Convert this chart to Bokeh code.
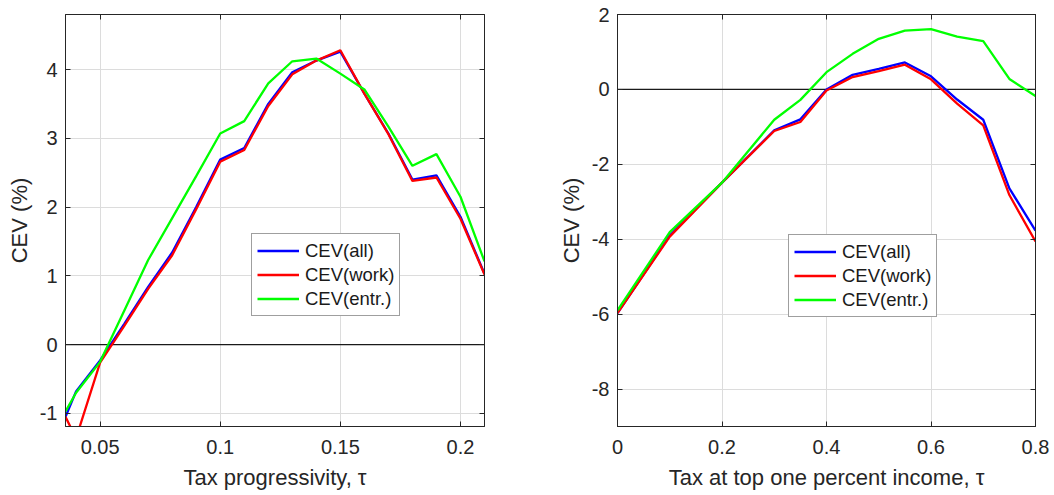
from bokeh.plotting import figure
from bokeh.layouts import row
from bokeh.models import (LinearAxis, FixedTicker, CustomJSTickFormatter, Span,
                          Legend, LegendItem, Label, Range1d)
from bokeh.embed import file_html
from bokeh.resources import INLINE

# ---------------- data ----------------
# Left panel: tax progressivity tau
tau = [0.0356, 0.04, 0.05, 0.06, 0.07, 0.08, 0.09, 0.10, 0.11, 0.12, 0.13,
       0.14, 0.15, 0.16, 0.17, 0.18, 0.19, 0.20, 0.21]
cev_all_L = [-1.05, -0.68, -0.23, 0.30, 0.84, 1.34, 2.00, 2.69, 2.86, 3.50, 3.96,
             4.13, 4.26, 3.65, 3.07, 2.40, 2.46, 1.86, 1.03]
cev_work_L = [-1.05, -1.36, -0.26, 0.27, 0.81, 1.30, 1.97, 2.66, 2.83, 3.47, 3.93,
              4.13, 4.28, 3.65, 3.06, 2.38, 2.43, 1.83, 1.02]
cev_entr_L = [-0.97, -0.70, -0.25, 0.49, 1.23, 1.84, 2.45, 3.07, 3.25, 3.80, 4.12,
              4.16, 3.94, 3.71, 3.17, 2.60, 2.77, 2.15, 1.21]

# Right panel: tax at top one percent income tau_H
tauH = [0.0, 0.1, 0.2, 0.3, 0.35, 0.4, 0.45, 0.5, 0.55, 0.6, 0.65, 0.7, 0.75, 0.8]
cev_all_R = [-5.97, -3.90, -2.49, -1.09, -0.80, 0.00, 0.39, 0.55, 0.72, 0.35,
             -0.27, -0.81, -2.64, -3.77]
cev_work_R = [-5.97, -3.93, -2.49, -1.11, -0.87, -0.03, 0.33, 0.49, 0.66, 0.27,
              -0.38, -0.96, -2.82, -4.06]
cev_entr_R = [-5.90, -3.81, -2.49, -0.81, -0.28, 0.46, 0.95, 1.35, 1.57, 1.61,
              1.41, 1.29, 0.28, -0.18]

series_labels = ["CEV(all)", "CEV(work)", "CEV(entr.)"]
series_colors = ["#0000ff", "#ff0000", "#00ff00"]

xticks_L = [0.05, 0.10, 0.15, 0.20]
yticks_L = [-1, 0, 1, 2, 3, 4]
xticks_R = [0.0, 0.2, 0.4, 0.6, 0.8]
yticks_R = [-8, -6, -4, -2, 0, 2]

FONT = "Liberation Sans"
TXT = "#262626"
H = 495


def fmt():
    return CustomJSTickFormatter(code="return String(Math.round(tick*1000)/1000)")


def make_panel(x, ys, xr, yr, xticks, yticks, xlabel, width, bl, br, legend_loc):
    p = figure(width=width, height=H, x_range=Range1d(*xr), y_range=Range1d(*yr),
               output_backend="svg", toolbar_location=None,
               min_border_left=bl, min_border_right=br,
               min_border_top=14, min_border_bottom=69)
    p.background_fill_color = "white"
    p.border_fill_color = "white"
    p.outline_line_color = TXT
    p.outline_line_width = 1

    xa = p.xaxis[0]
    ya = p.yaxis[0]
    xa.ticker = FixedTicker(ticks=xticks)
    ya.ticker = FixedTicker(ticks=yticks)
    for ax, std, lstd in ((xa, 13, 8), (ya, 8, 5)):
        ax.formatter = fmt()
        ax.major_tick_in = 5
        ax.major_tick_out = 0
        ax.minor_tick_in = 0
        ax.minor_tick_out = 0
        ax.axis_line_color = TXT
        ax.major_tick_line_color = TXT
        ax.major_label_text_color = TXT
        ax.major_label_text_font = FONT
        ax.major_label_text_font_size = "20px"
        ax.major_label_standoff = std
        ax.axis_label_text_font = FONT
        ax.axis_label_text_font_size = "22px"
        ax.axis_label_text_font_style = "normal"
        ax.axis_label_text_color = TXT
        ax.axis_label_standoff = lstd
    xa.axis_label = xlabel
    ya.axis_label = "CEV (%)"

    # mirrored ticks on top and right (no labels)
    for loc, tk in (("above", xticks), ("right", yticks)):
        ax = LinearAxis(ticker=FixedTicker(ticks=tk),
                        formatter=CustomJSTickFormatter(code="return ''"))
        ax.major_tick_in = 5
        ax.major_tick_out = 0
        ax.minor_tick_in = 0
        ax.minor_tick_out = 0
        ax.axis_line_color = TXT
        ax.major_tick_line_color = TXT
        ax.major_label_text_font_size = "1px"
        ax.major_label_standoff = 0
        p.add_layout(ax, loc)

    for g in (p.xgrid[0], p.ygrid[0]):
        g.grid_line_color = "#dcdcdc"
        g.grid_line_width = 1

    zero = Span(location=0, dimension="width", line_color="#1a1a1a",
                line_width=1.2, level="underlay")
    p.add_layout(zero)

    items = []
    for yv, lab, col in zip(ys, series_labels, series_colors):
        r = p.line(x, yv, line_color=col, line_width=2.3)
        items.append(LegendItem(label=lab, renderers=[r]))

    leg = Legend(items=items, location=legend_loc)
    leg.border_line_color = "#404040"
    leg.border_line_width = 1
    leg.background_fill_color = "white"
    leg.background_fill_alpha = 1
    leg.label_text_font = FONT
    leg.label_text_font_size = "18.5px"
    leg.label_text_color = "#1a1a1a"
    leg.glyph_width = 42
    leg.glyph_height = 23
    leg.label_height = 23
    leg.label_standoff = 6
    leg.padding = 5
    leg.spacing = 1
    leg.margin = 0
    p.add_layout(leg)
    return p


pL = make_panel(tau, [cev_all_L, cev_work_L, cev_entr_L], (0.0356, 0.21), (-1.19, 4.8),
                xticks_L, yticks_L, "Tax progressivity, τ", 530, 65, 46, (186, 110))
pR = make_panel(tauH, [cev_all_R, cev_work_R, cev_entr_R], (0.0, 0.8), (-9, 2),
                xticks_R, yticks_R, "Tax at top one percent income, τ", 520, 87, 15, (171, 109))

sub = Label(x=370, y=-55, x_units="screen", y_units="screen", text="H",
            text_font=FONT, text_font_size="13px", text_color=TXT,
            text_baseline="top", text_align="left")
pR.add_layout(sub)

layout = row(pL, pR)
open("out.html", "w").write(file_html(layout, INLINE))
